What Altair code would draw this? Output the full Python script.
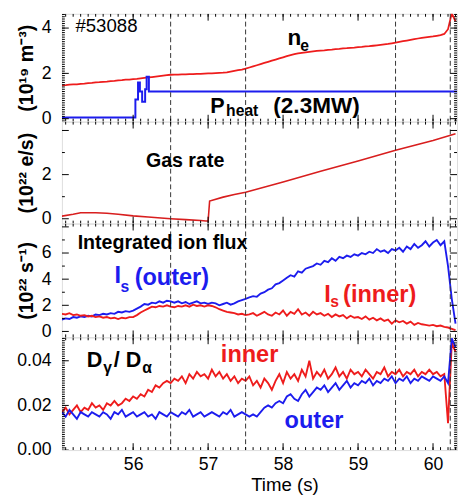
import altair as alt
import pandas as pd
import numpy as np

RED = "#ee1c1c"
BLUE = "#1c1cee"
FONT = "Liberation Sans"

# ---------------- data ----------------
# common 0.05 s sampling grid, 55.05 ... 60.30 s
TIME = [round(55.05 + 0.05 * k, 2) for k in range(106)]

NE = [1.47, 1.48, 1.50, 1.51, 1.52, 1.54, 1.55, 1.57, 1.58, 1.60,
      1.61, 1.63, 1.64, 1.66, 1.67, 1.69, 1.70, 1.72, 1.73, 1.75,
      1.76, 1.78, 1.80, 1.82, 1.84, 1.86, 1.88, 1.90, 1.92, 1.94,
      1.95, 1.95, 1.96, 1.96, 1.97, 1.97, 1.98, 1.98, 1.99, 2.00,
      2.00, 2.01, 2.02, 2.03, 2.05, 2.08, 2.11, 2.14, 2.17, 2.21,
      2.26, 2.31, 2.36, 2.41, 2.46, 2.51, 2.56, 2.61, 2.66, 2.71,
      2.76, 2.81, 2.85, 2.88, 2.91, 2.93, 2.95, 2.97, 2.99, 3.01,
      3.02, 3.04, 3.05, 3.07, 3.08, 3.10, 3.11, 3.13, 3.14, 3.16,
      3.17, 3.19, 3.20, 3.22, 3.24, 3.26, 3.28, 3.30, 3.33, 3.36,
      3.39, 3.42, 3.45, 3.48, 3.51, 3.54, 3.57, 3.59, 3.61, 3.63,
      3.66, 3.69, 3.74, 3.95, 4.65, 4.30]

PHEAT_T = [55.05, 56.03, 56.065, 56.09, 56.12, 56.16, 56.18, 56.21, 60.32]
PHEAT = [0.05, 0.85, 1.6, 1.2, 0.75, 1.3, 1.85, 1.2, 1.2]

GAS_T = [55.05, 55.2, 55.3, 55.5, 55.65, 55.8, 56.0, 56.2, 56.5, 56.7,
         56.9, 56.97, 57.0, 57.02, 57.2, 57.35, 57.5, 58.0, 58.5, 59.0,
         59.5, 60.0, 60.3]
GAS = [0.12, 0.2, 0.27, 0.27, 0.25, 0.2, 0.13, 0.08, 0.0, -0.04,
       -0.08, -0.1, -0.1, 0.8, 0.98, 1.1, 1.2, 1.67, 2.15, 2.62,
       3.1, 3.55, 3.85]

IS_OUT = [0.9, 1.0, 0.95, 1.1, 1.05, 1.15, 1.1, 1.2, 1.15, 1.3,
          1.25, 1.35, 1.3, 1.4, 1.35, 1.5, 1.45, 1.55, 1.5, 1.6,
          1.75, 1.9, 2.1, 2.05, 2.2, 2.15, 2.3, 2.2, 2.35, 2.3,
          2.2, 2.3, 2.15, 2.25, 2.1, 2.2, 2.3, 2.15, 2.2, 2.1,
          2.2, 2.15, 2.0, 2.1, 2.2, 2.05, 2.15, 2.3, 2.4, 2.5,
          2.6, 2.7, 2.65, 2.9, 3.0, 3.2, 3.3, 3.6, 3.7, 3.9,
          4.1, 4.3, 4.2, 4.6, 4.5, 4.8, 4.9, 5.0, 5.2, 5.1,
          5.4, 5.3, 5.6, 5.4, 5.7, 5.6, 5.8, 5.7, 5.9, 5.8,
          6.0, 5.9, 6.1, 6.0, 6.3, 6.1, 6.2, 6.0, 6.3, 6.2,
          6.4, 6.1, 6.5, 6.3, 6.7, 6.4, 6.6, 6.9, 6.5, 6.8,
          7.0, 6.6, 6.9, 5.0, 2.5, 0.6]

IS_IN = [1.35, 1.3, 1.4, 1.25, 1.3, 1.2, 1.25, 1.15, 1.2, 1.1,
         1.15, 1.05, 1.1, 1.0, 1.05, 0.95, 1.05, 1.0, 1.1, 1.1,
         1.25, 1.45, 1.6, 1.75, 1.9, 1.85, 1.95, 1.9, 2.0, 1.9,
         1.85, 1.95, 1.9, 2.0, 1.9, 2.05, 1.95, 2.0, 1.9, 2.0,
         1.95, 1.85, 1.7, 1.6, 1.5, 1.45, 1.4, 1.3, 1.35, 1.25,
         1.3, 1.4, 1.2, 1.35, 1.5, 1.3, 1.2, 1.45, 1.3, 1.6,
         1.2, 1.5, 1.35, 1.7, 1.3, 1.45, 1.2, 1.5, 1.3, 1.4,
         1.2, 1.35, 1.1, 1.3, 1.15, 1.25, 1.0, 1.2, 1.05, 1.1,
         0.95, 1.15, 0.9, 1.05, 0.85, 1.0, 0.8, 0.9, 0.6, 0.85,
         0.7, 0.8, 0.6, 0.75, 0.5, 0.65, 0.55, 0.5, 0.45, 0.5,
         0.4, 0.45, 0.35, 0.3, 0.2, 0.1]

DG_IN = [0.017, 0.019, 0.016, 0.018, 0.020, 0.017, 0.019, 0.018, 0.021, 0.019,
         0.020, 0.018, 0.021, 0.020, 0.022, 0.020, 0.021, 0.023, 0.022, 0.024,
         0.023, 0.025, 0.024, 0.027, 0.026, 0.029, 0.028, 0.030, 0.031, 0.030,
         0.032, 0.031, 0.033, 0.030, 0.034, 0.032, 0.035, 0.033, 0.034, 0.032,
         0.036, 0.033, 0.035, 0.032, 0.034, 0.031, 0.033, 0.030, 0.032, 0.031,
         0.033, 0.029, 0.031, 0.028, 0.032, 0.030, 0.027, 0.031, 0.034, 0.030,
         0.035, 0.032, 0.034, 0.031, 0.036, 0.033, 0.040, 0.032, 0.035, 0.033,
         0.036, 0.032, 0.034, 0.037, 0.033, 0.035, 0.032, 0.036, 0.034, 0.035,
         0.033, 0.036, 0.034, 0.032, 0.035, 0.034, 0.037, 0.033, 0.035, 0.034,
         0.036, 0.033, 0.035, 0.034, 0.036, 0.033, 0.035, 0.034, 0.036, 0.034,
         0.035, 0.033, 0.034, 0.012, 0.048, 0.044]

DG_OUT = [0.017, 0.015, 0.018, 0.016, 0.014, 0.017, 0.016, 0.015, 0.017, 0.016,
          0.015, 0.017, 0.016, 0.014, 0.017, 0.016, 0.018, 0.015, 0.016, 0.017,
          0.015, 0.016, 0.017, 0.015, 0.016, 0.014, 0.017, 0.016, 0.015, 0.017,
          0.016, 0.015, 0.017, 0.016, 0.018, 0.015, 0.016, 0.017, 0.015, 0.016,
          0.017, 0.016, 0.015, 0.017, 0.016, 0.018, 0.015, 0.016, 0.017, 0.016,
          0.015, 0.016, 0.015, 0.017, 0.019, 0.020, 0.019, 0.021, 0.022, 0.021,
          0.024, 0.025, 0.023, 0.022, 0.025, 0.027, 0.024, 0.026, 0.028, 0.027,
          0.029, 0.026, 0.028, 0.030, 0.027, 0.029, 0.031, 0.028, 0.030, 0.029,
          0.031, 0.030, 0.032, 0.029, 0.031, 0.030, 0.032, 0.031, 0.033, 0.030,
          0.032, 0.031, 0.033, 0.030, 0.032, 0.031, 0.033, 0.032, 0.031, 0.033,
          0.032, 0.031, 0.033, 0.030, 0.050, 0.046]

DASH_T = [56.5, 57.5, 59.5, 60.23]

X_LABELS = [56, 57, 58, 59, 60]
X_MINOR = [round(55.1 + 0.1 * k, 1) for k in range(53)]

# annotations: text, time, value, font size, colour, weight
ANN1 = [("#53088", 55.23, 3.81, 19, "black", "normal"),
        ("n", 58.06, 3.25, 23, "black", "bold"),
        ("e", 58.23, 2.99, 16, "black", "bold"),
        ("P", 57.03, 0.26, 22, "black", "bold"),
        ("heat", 57.24, 0.12, 16, "black", "bold"),
        ("(2.3MW)", 57.87, 0.26, 23, "black", "bold")]
ANN2 = [("Gas rate", 56.17, 2.36, 20, "black", "bold")]
ANN3 = [("Integrated ion flux", 55.26, 6.3, 20, "black", "bold"),
        ("I", 55.75, 3.68, 24, BLUE, "bold"),
        ("s", 55.83, 3.0, 16, BLUE, "bold"),
        ("(outer)", 56.02, 3.53, 24, BLUE, "bold"),
        ("I", 58.55, 2.25, 24, RED, "bold"),
        ("s", 58.63, 1.88, 16, RED, "bold"),
        ("(inner)", 58.80, 2.25, 24, RED, "bold")]
ANN4 = [("D", 55.38, 0.0374, 22, "black", "bold"),
        ("γ", 55.60, 0.0347, 16, "black", "bold"),
        ("/", 55.74, 0.0374, 22, "black", "bold"),
        ("D", 55.90, 0.0374, 22, "black", "bold"),
        ("α", 56.12, 0.0347, 16, "black", "bold"),
        ("inner", 57.17, 0.0396, 24, RED, "bold"),
        ("outer", 58.02, 0.0101, 24, BLUE, "bold")]

# ---------------- layout ----------------
W = 403
HS = [110, 104, 116, 115]
X_DOMAIN = [55.05, 60.32]
xs = alt.Scale(domain=X_DOMAIN, nice=False, zero=False)


def steps(lo, hi, step):
    n = int(round((hi - lo) / step))
    return [round(lo + step * k, 4) for k in range(n + 1)]


def panel(h, ydom, series, ann, ytitle, ylabels, ymaj, ymin, yfmt, last):
    ys = alt.Scale(domain=ydom, nice=False, zero=False)
    yaxis = alt.Axis(values=ylabels, format=yfmt, title=ytitle, ticks=False, tickSize=0,
                     domain=False, grid=False, labelFontSize=18, labelFont=FONT,
                     labelPadding=11, labelColor="black", titleFont=FONT,
                     titleFontSize=20, titleFontWeight="bold", titlePadding=5,
                     titleColor="black")
    if last:
        xaxis = alt.Axis(values=X_LABELS, format="d", title="Time (s)", ticks=False,
                         tickSize=0, domain=False, grid=False, labelFontSize=18,
                         labelFont=FONT, labelPadding=6, labelColor="black",
                         titleFont=FONT, titleFontSize=19, titleFontWeight="normal",
                         titleColor="black", titleX=227, titleY=41,
                         titleBaseline="alphabetic")
    else:
        xaxis = None

    def X():
        return alt.X("t:Q", scale=xs, axis=xaxis)

    def Y():
        return alt.Y("v:Q", scale=ys, axis=yaxis)

    layers = []
    for (t, v, color, sw, interp) in series:
        df = pd.DataFrame({"t": t, "v": v})
        layers.append(alt.Chart(df).mark_line(color=color, strokeWidth=sw,
                                              interpolate=interp, clip=True)
                      .encode(x=X(), y=Y()))

    # dashed vertical lines
    layers.append(alt.Chart(pd.DataFrame({"t": DASH_T})).mark_rule(
        color="#333333", strokeWidth=1, strokeDash=[5, 3])
        .encode(x=X(), y=alt.value(0), y2=alt.value(h)))

    # inward ticks, x (top + bottom)
    for vals, ln in ((X_MINOR, 3), (X_LABELS, 7)):
        d = pd.DataFrame({"t": vals})
        layers.append(alt.Chart(d).mark_rule(color="black", strokeWidth=1, clip=True)
                      .encode(x=X(), y=alt.value(h), y2=alt.value(h - ln)))
        layers.append(alt.Chart(d).mark_rule(color="black", strokeWidth=1, clip=True)
                      .encode(x=X(), y=alt.value(0), y2=alt.value(ln)))
    # inward ticks, y (left + right)
    for vals, ln in ((ymin, 3), (ymaj, 7)):
        d = pd.DataFrame({"v": vals})
        layers.append(alt.Chart(d).mark_rule(color="black", strokeWidth=1, clip=True)
                      .encode(y=Y(), x=alt.value(0), x2=alt.value(ln)))
        layers.append(alt.Chart(d).mark_rule(color="black", strokeWidth=1, clip=True)
                      .encode(y=Y(), x=alt.value(W), x2=alt.value(W - ln)))

    # annotations
    adf = pd.DataFrame(ann, columns=["txt", "t", "v", "size", "color", "weight"])
    for wgt in ("normal", "bold"):
        sub = adf[adf["weight"] == wgt]
        if len(sub) == 0:
            continue
        layers.append(alt.Chart(sub).mark_text(align="left", baseline="alphabetic",
                                               font=FONT, fontWeight=wgt)
                      .encode(x=X(), y=Y(),
                              text="txt:N",
                              size=alt.Size("size:Q", scale=None, legend=None),
                              color=alt.Color("color:N", scale=None, legend=None)))

    return alt.layer(*layers).properties(width=W, height=h)


p1 = panel(HS[0], [-0.13, 4.63],
           [(TIME, NE, RED, 1.8, "linear"), (PHEAT_T, PHEAT, BLUE, 2.0, "step-after")],
           ANN1, "(10¹⁹ m⁻³)", [0, 2, 4], [0, 2, 4], steps(-0.1, 4.6, 0.1), "d", False)
p2 = panel(HS[1], [-0.22, 4.4],
           [(GAS_T, GAS, "#d81e1e", 1.6, "linear")],
           ANN2, "(10²² e/s)", [0, 2], [0, 2, 4], [1, 3], "d", False)
p3 = panel(HS[2], [-0.45, 8.25],
           [(TIME, IS_OUT, BLUE, 1.9, "linear"), (TIME, IS_IN, RED, 1.9, "linear")],
           ANN3, "(10²² s⁻¹)", [0, 2, 4, 6], [0, 2, 4, 6, 8], [1, 3, 5, 7], "d", False)
p4 = panel(HS[3], [0, 0.0505],
           [(TIME, DG_IN, RED, 1.9, "linear"), (TIME, DG_OUT, BLUE, 1.9, "linear")],
           ANN4, None, [0, 0.02, 0.04], [0, 0.02, 0.04], steps(0.001, 0.05, 0.001),
           ".2f", True)

chart = alt.vconcat(p1, p2, p3, p4, spacing=0, bounds="flush").properties(
    padding={"left": 8, "top": 0, "right": 0, "bottom": 0}
).configure_view(stroke="black", strokeWidth=1).configure(background="white")

chart.save("out.html", embed_options={"renderer": "svg", "actions": False})
